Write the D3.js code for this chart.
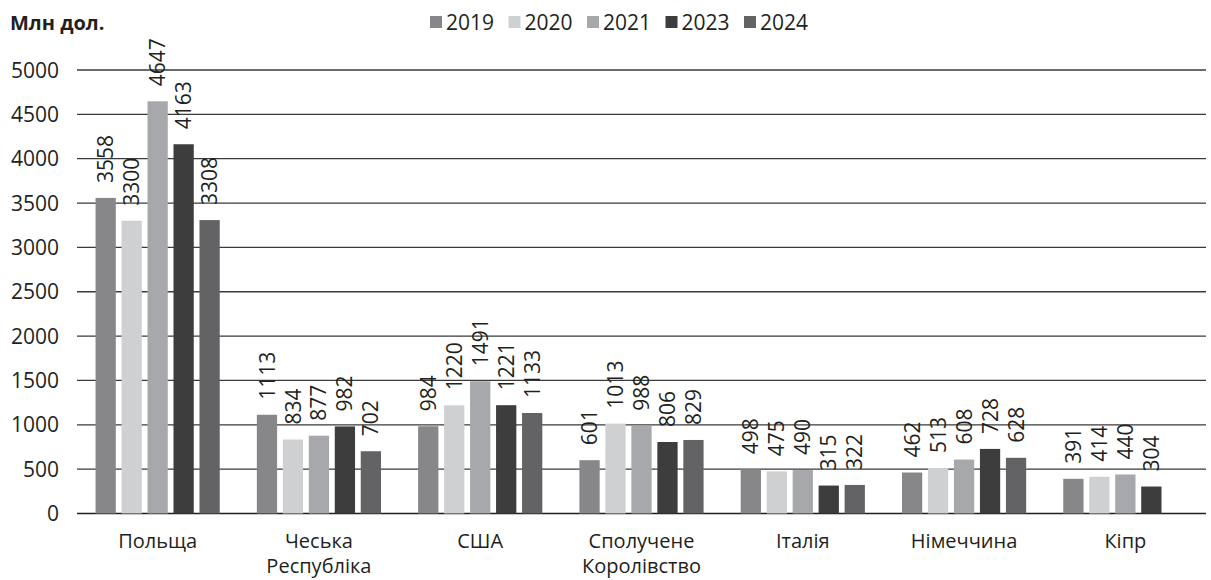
<!DOCTYPE html>
<html><head><meta charset="utf-8">
<script src="https://cdn.jsdelivr.net/npm/d3@7"></script>
<style>body{margin:0;background:#fff}svg{display:block}text{font-family:"Open Sans","Noto Sans",sans-serif;fill:#231f20}</style>
</head><body><svg id="c" width="1211" height="580"></svg>
<script>
const categories = [["Польща"],["Чеська","Республіка"],["США"],["Сполучене","Королівство"],["Італія"],["Німеччина"],["Кіпр"]];
const years = ["2019","2020","2021","2023","2024"];
const v2019 = [3558,1113,984,601,498,462,391];
const v2020 = [3300,834,1220,1013,475,513,414];
const v2021 = [4647,877,1491,988,490,608,440];
const v2023 = [4163,982,1221,806,315,728,304];
const v2024 = [3308,702,1133,829,322,628,null];
const yTicks = [0,500,1000,1500,2000,2500,3000,3500,4000,4500,5000];
const colors = ["#87878a","#cfd0d2","#a7a8ab","#3d3d3d","#636365"];
const series = [v2019,v2020,v2021,v2023,v2024];

const svg = d3.select("#c");
const pLeft = 77, pRight = 1206, pTop = 70, pBottom = 513.5;
const x0 = d3.scaleBand().domain(d3.range(categories.length)).range([pLeft,pRight]).paddingInner(0.23).paddingOuter(0.115);
const x1 = d3.scaleBand().domain(years).range([0,x0.bandwidth()]).paddingInner(0.22);
const y = d3.scaleLinear().domain([0,5000]).range([pBottom,pTop]);
const color = d3.scaleOrdinal().domain(years).range(colors);

svg.append("g").selectAll("line").data(yTicks).join("line")
  .attr("x1",pLeft).attr("x2",pRight).attr("y1",d=>y(d)).attr("y2",d=>y(d))
  .attr("stroke",d=>d===0?"#231f20":"#3a3a3a").attr("stroke-width",1.3);
svg.append("g").selectAll("text").data(yTicks).join("text")
  .attr("x",59).attr("y",d=>y(d)).attr("dy","0.36em").attr("text-anchor","end")
  .style("font-size","21px").text(d=>d);

const groups = svg.append("g").selectAll("g").data(categories).join("g")
  .attr("transform",(d,i)=>`translate(${x0(i)},0)`);
groups.each(function(c,i){
  const g = d3.select(this);
  const items = years.map((yr,k)=>({yr,v:series[k][i]})).filter(d=>d.v!=null);
  g.selectAll("rect").data(items).join("rect")
    .attr("x",d=>x1(d.yr)).attr("width",x1.bandwidth())
    .attr("y",d=>y(d.v)).attr("height",d=>y(0)-y(d.v))
    .attr("fill",d=>color(d.yr));
  g.selectAll("text.v").data(items).join("text").attr("class","v")
    .attr("transform",d=>`translate(${x1(d.yr)+x1.bandwidth()/2},${y(d.v)-15}) rotate(-90)`)
    .attr("dy","0.36em").style("font-size","21px").text(d=>d.v);
  const t = g.append("text").attr("x",x0.bandwidth()/2).attr("y",548).attr("text-anchor","middle").style("font-size","20px");
  c.forEach((line,j)=>t.append("tspan").attr("x",x0.bandwidth()/2).attr("dy",j===0?0:25).text(line));
});

svg.append("text").attr("x",10).attr("y",30).style("font-size","20px").style("font-weight","bold").text("Млн дол.");

const lg = svg.append("g").selectAll("g").data(years).join("g")
  .attr("transform",(d,i)=>`translate(${430+i*78.5},0)`);
lg.append("rect").attr("x",0).attr("y",16).attr("width",12).attr("height",12).attr("fill",d=>color(d));
lg.append("text").attr("x",16).attr("y",22).attr("dy","0.36em").style("font-size","21px").text(d=>d);
</script></body></html>
